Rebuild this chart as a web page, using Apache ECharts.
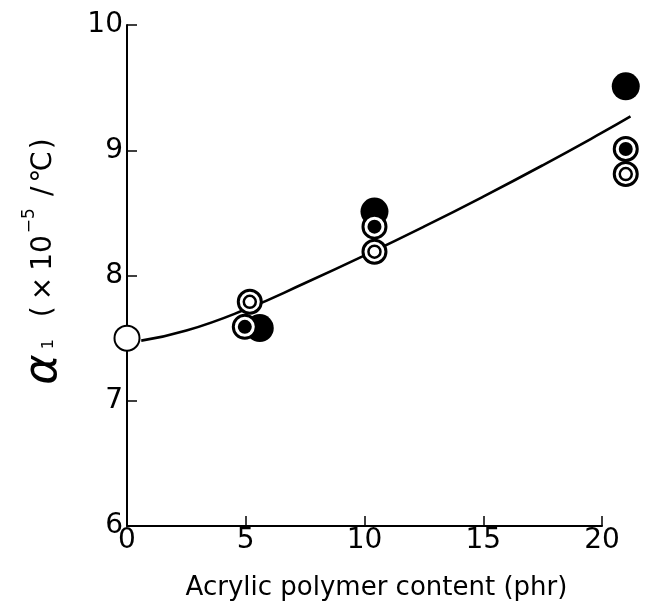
<!DOCTYPE html>
<html>
<head>
<meta charset="utf-8">
<script src="https://cdn.jsdelivr.net/npm/echarts@6/dist/echarts.min.js"></script>
<style>
html,body{margin:0;padding:0;background:#fff;}
#c{width:647px;height:605px;}
</style>
</head>
<body>
<div id="c"></div>
<script>
// Axis ticks
var xTicks = [0, 5, 10, 15, 20];
var yTicks = [6, 7, 8, 9, 10];

// Fitted curve (it runs slightly past x = 20)
var curveX = [0.6, 2.5, 5, 7.5, 10, 12.5, 15, 17.5, 20, 21.2];
var curveY = [7.48, 7.56, 7.73, 7.94, 8.16, 8.39, 8.63, 8.88, 9.14, 9.27];

// Open circle (0 phr)
var openX = [0];
var openY = [7.5];

// Large filled circles
var filledX = [5.59, 10.42, 21.0];
var filledY = [7.58, 8.51, 9.51];

// Double circle with filled centre
var dotRingX = [4.96, 10.42, 21.0];
var dotRingY = [7.59, 8.39, 9.01];

// Double circle with open centre
var ringX = [5.17, 10.42, 21.0];
var ringY = [7.79, 8.19, 8.81];

function pairs(xs, ys) { return xs.map(function (x, i) { return [x, ys[i]]; }); }

var FONT = 'DejaVu Sans';
var chart = echarts.init(document.getElementById('c'), null, {renderer: 'canvas'});

// main grid geometry
var G = {left: 127, right: 45, top: 25, bottom: 79};
var W = 647 - G.left - G.right;
// wider hidden grid so the curve can run past x = 20 on the same scale
var G2right = 8;
var W2 = 647 - G.left - G2right;
var x2max = 20 * W2 / W;

function axisCommon() {
  return {
    axisLine: {show: true, onZero: false, lineStyle: {color: '#000', width: 2}},
    axisTick: {show: true, inside: true, length: 10, lineStyle: {color: '#000', width: 1.5}},
    splitLine: {show: false},
    axisLabel: {color: '#000', fontSize: 28, fontFamily: FONT}
  };
}

var xAxis = axisCommon();
Object.assign(xAxis, {
  gridIndex: 0, type: 'value', min: xTicks[0], max: xTicks[xTicks.length - 1], interval: 5,
  name: 'Acrylic polymer content (phr)', nameLocation: 'middle', nameGap: 49,
  nameTextStyle: {color: '#000', fontSize: 26, fontFamily: FONT, padding: [0, 0, 0, 24]}
});
xAxis.axisLabel.margin = 1;

var R = {color: '#000', fontFamily: FONT, fontSize: 28};
function rs(extra) { return Object.assign({}, R, extra); }

var yAxis = axisCommon();
Object.assign(yAxis, {
  gridIndex: 0, type: 'value', min: yTicks[0], max: yTicks[yTicks.length - 1], interval: 1,
  name: '{a|α}{s|1}{b|(}{c|×}{d|10}{p|−5}{e|/}{f|℃}{g|)}',
  nameLocation: 'middle', nameRotate: 90, nameGap: 60,
  nameTextStyle: {
    color: '#000', fontFamily: FONT, padding: [0, 0, 0, 28],
    rich: {
      a: rs({fontSize: 46, fontStyle: 'italic', padding: [0, 5, 0, 0]}),
      s: rs({fontSize: 16, verticalAlign: 'middle', padding: [10, 22, 0, 0]}),
      b: rs({padding: [0, 6, 0, 0]}),
      c: rs({padding: [0, 6, 0, 0]}),
      d: rs({padding: [0, 2, 0, 0]}),
      p: rs({fontSize: 17, verticalAlign: 'top', padding: [0, 12, 0, 0]}),
      e: rs({padding: [0, 4, 0, 0]}),
      f: rs({padding: [0, 2, 0, 0]}),
      g: rs({})
    }
  }
});
yAxis.axisLabel.margin = 4;

var ringStyleOuter = {color: '#fff', borderColor: '#000', borderWidth: 3, opacity: 1};

chart.setOption({
  animation: false,
  backgroundColor: '#fff',
  grid: [
    {left: G.left, right: G.right, top: G.top, bottom: G.bottom, containLabel: false, outerBoundsMode: 'none'},
    {left: G.left, right: G2right, top: G.top, bottom: G.bottom, containLabel: false, outerBoundsMode: 'none'}
  ],
  xAxis: [
    xAxis,
    {gridIndex: 1, type: 'value', min: 0, max: x2max, show: false}
  ],
  yAxis: [
    yAxis,
    {gridIndex: 1, type: 'value', min: yTicks[0], max: yTicks[yTicks.length - 1], show: false}
  ],
  series: [
    {type: 'line', xAxisIndex: 1, yAxisIndex: 1, data: pairs(curveX, curveY), smooth: 0.5,
     showSymbol: false, clip: false,
     lineStyle: {color: '#000', width: 2.6}, z: 1},
    {type: 'scatter', data: pairs(filledX, filledY), symbol: 'circle', symbolSize: 28, clip: false,
     itemStyle: {color: '#000', opacity: 1}, z: 2},
    {type: 'scatter', data: pairs(ringX, ringY), symbol: 'circle', symbolSize: 23, clip: false,
     itemStyle: ringStyleOuter, z: 3},
    {type: 'scatter', data: pairs(ringX, ringY), symbol: 'circle', symbolSize: 12, clip: false,
     itemStyle: {color: '#fff', borderColor: '#000', borderWidth: 2.5, opacity: 1}, z: 4},
    {type: 'scatter', data: pairs(dotRingX, dotRingY), symbol: 'circle', symbolSize: 23, clip: false,
     itemStyle: ringStyleOuter, z: 5},
    {type: 'scatter', data: pairs(dotRingX, dotRingY), symbol: 'circle', symbolSize: 14, clip: false,
     itemStyle: {color: '#000', opacity: 1}, z: 6},
    {type: 'scatter', data: pairs(openX, openY), symbol: 'circle', symbolSize: 25, clip: false,
     itemStyle: {color: '#fff', borderColor: '#000', borderWidth: 2, opacity: 1}, z: 7}
  ]
});
</script>
</body>
</html>
